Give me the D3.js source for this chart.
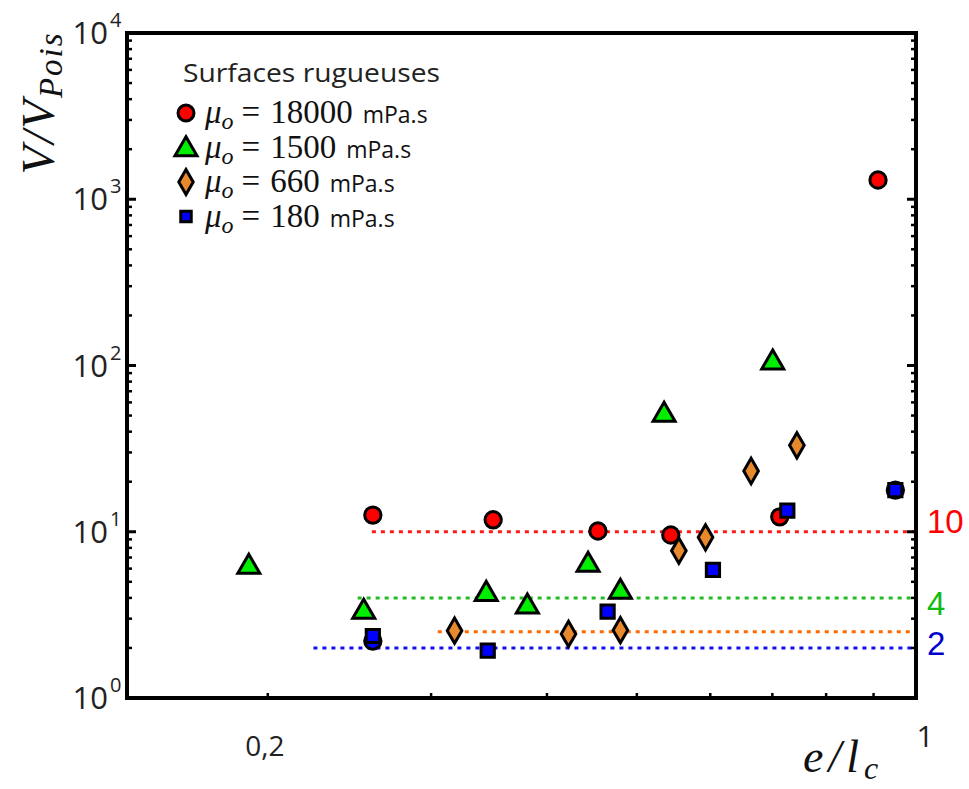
<!DOCTYPE html>
<html><head><meta charset="utf-8">
<script src="https://cdn.jsdelivr.net/npm/d3@7"></script>
<style>body{margin:0;background:#fff}</style>
</head><body>
<svg id="c" width="969" height="789"></svg>
<script>
// ---- data ----
const series18000_x = [0.2596, 0.350, 0.454, 0.544, 0.713, 0.910];
const series18000_y = [12.6, 11.8, 10.1, 9.56, 12.3, 1306];
const series1500_x = [0.1908, 0.2538, 0.344, 0.381, 0.443, 0.480, 0.535, 0.7007];
const series1500_y = [6.14, 3.29, 4.22, 3.54, 6.31, 4.34, 50.4, 104];
const series660_x = [0.318, 0.422, 0.480, 0.555, 0.593, 0.664, 0.744];
const series660_y = [2.54, 2.43, 2.56, 7.69, 9.26, 23.2, 33.1];
const series180_x = [0.2596, 0.3453, 0.465, 0.604, 0.7265, 0.950];
const series180_y = [2.36, 1.93, 3.31, 5.89, 13.39, 17.8];
const extraCircle_x = [0.2596, 0.950];
const extraCircle_y = [2.20, 17.8];
const refValues = [10, 4, 2.5, 2];
const refStarts = [0.259, 0.25, 0.305, 0.224];
const refLabels = ["10", "4", "", "2"];
const refColors = ["#ff1a1a", "#22bb22", "#ff6a00", "#1010ee"];
const refLabelColors = ["#ff0000", "#11bb11", "", "#0000cc"];
const yTickExps = [0, 1, 2, 3, 4];
const xTickValues = [0.2, 0.3, 0.4, 0.5, 0.6, 0.7, 0.8, 0.9, 1];
const xTickLabels = {0.2: "0,2", 1: "1"};
const legendValues = ["18000", "1500", "660", "180"];

const svg = d3.select("#c");
const L = 127, R = 916, T = 33, B = 698;
const x = d3.scaleLog().domain([0.141, 1]).range([L, R]);
const y = d3.scaleLog().domain([1, 10000]).range([B, T]);

// reference dashed lines
const labelOffsets = {10: -10, 4: 6, 2: -4};
refValues.forEach((v, i) => {
  svg.append("line").attr("x1", x(refStarts[i])).attr("x2", R).attr("y1", y(v)).attr("y2", y(v))
    .attr("stroke", refColors[i]).attr("stroke-width", 3).attr("stroke-dasharray", "4,5");
  if (refLabels[i]) {
    svg.append("text").attr("x", 927).attr("y", y(v) + labelOffsets[v])
      .attr("dominant-baseline", "central")
      .attr("font-family", "Liberation Sans, sans-serif").attr("font-size", 33)
      .attr("fill", refLabelColors[i]).text(refLabels[i]);
  }
});

function mk(type, size) { return d3.symbol().type(type).size(size)(); }
function draw(xs, ys, type, size, fill) {
  svg.append("g").selectAll("path").data(xs.map((d, i) => [d, ys[i]])).join("path")
    .attr("d", mk(type, size))
    .attr("transform", d => `translate(${x(d[0])},${y(d[1])})`)
    .attr("fill", fill).attr("stroke", "#000").attr("stroke-width", 3);
}
draw(series18000_x, series18000_y, d3.symbolCircle, 210, "#ff0000");
draw(series1500_x, series1500_y, d3.symbolTriangle, 210, "#00ee00");
draw(series660_x, series660_y, d3.symbolDiamond, 185, "#e8892e");
draw(extraCircle_x, extraCircle_y, d3.symbolCircle, 210, "#0000ff");
draw(series180_x, series180_y, d3.symbolSquare, 175, "#0000ff");

// frame
svg.append("rect").attr("x", L).attr("y", T).attr("width", R - L).attr("height", B - T)
  .attr("fill", "none").attr("stroke", "#000").attr("stroke-width", 4);

// y ticks
const gy = svg.append("g");
yTickExps.forEach(e => {
  const v = Math.pow(10, e);
  [L, R].forEach(xx => {
    const dir = xx === L ? 1 : -1;
    gy.append("line").attr("x1", xx).attr("x2", xx + dir * 9).attr("y1", y(v)).attr("y2", y(v))
      .attr("stroke", "#000").attr("stroke-width", 3);
    if (e < 4) for (let m = 2; m <= 9; m++) {
      gy.append("line").attr("x1", xx).attr("x2", xx + dir * 5).attr("y1", y(m * v)).attr("y2", y(m * v))
        .attr("stroke", "#000").attr("stroke-width", 2.5);
    }
  });
  gy.append("text").attr("x", 108).attr("y", y(v) + 11).attr("text-anchor", "end")
    .attr("font-family", "Open Sans, sans-serif").attr("font-size", 31).attr("fill", "#222").text("10");
  gy.append("text").attr("x", 110).attr("y", y(v) - 6)
    .attr("font-family", "Open Sans, sans-serif").attr("font-size", 20).attr("fill", "#222").text(e);
});

// x ticks
xTickValues.forEach(v => {
  svg.append("line").attr("x1", x(v)).attr("x2", x(v)).attr("y1", B).attr("y2", B - 5)
    .attr("stroke", "#000").attr("stroke-width", 2.5);
  if (xTickLabels[v]) {
    svg.append("text").attr("x", x(v) + (v === 1 ? 9 : -3)).attr("y", v === 1 ? 747 : 756).attr("text-anchor", "middle")
      .attr("font-family", "Open Sans, sans-serif").attr("font-size", v === 1 ? 30 : 28).attr("fill", "#222")
      .text(xTickLabels[v]);
  }
});

// axis titles
const yt = svg.append("text").attr("transform", "translate(54,103) rotate(-90)").attr("text-anchor", "middle")
  .attr("font-family", "Liberation Serif, serif").attr("font-style", "italic").attr("font-size", 47)
  .attr("letter-spacing", 2).attr("fill", "#111");
yt.append("tspan").text("V/V");
yt.append("tspan").attr("font-size", 33).attr("dy", 8).text("Pois");

const xt = svg.append("text").attr("x", 803).attr("y", 772)
  .attr("font-family", "Liberation Serif, serif").attr("font-style", "italic").attr("font-size", 46)
  .attr("letter-spacing", 5).attr("fill", "#111");
xt.append("tspan").text("e/l");
xt.append("tspan").attr("font-size", 32).attr("dy", 7).text("c");

// legend
svg.append("text").attr("x", 183).attr("y", 82).attr("font-family", "Open Sans, sans-serif")
  .attr("font-size", 26).attr("fill", "#222").attr("textLength", 257).attr("lengthAdjust", "spacingAndGlyphs")
  .text("Surfaces rugueuses");
const legTypes = [[d3.symbolCircle, 200, "#ff0000"], [d3.symbolTriangle, 210, "#00ee00"],
  [d3.symbolDiamond, 180, "#e8892e"], [d3.symbolSquare, 110, "#0000ff"]];
legendValues.forEach((val, i) => {
  const cy = 113 + i * 34.5;
  svg.append("path").attr("d", mk(legTypes[i][0], legTypes[i][1]))
    .attr("transform", `translate(186,${cy + (i === 1 ? 2 : 0)})`)
    .attr("fill", legTypes[i][2]).attr("stroke", "#000").attr("stroke-width", 3);
  const t = svg.append("text").attr("x", 205).attr("y", cy + 10).attr("fill", "#111");
  t.append("tspan").attr("font-family", "Liberation Serif, serif").attr("font-style", "italic").attr("font-size", 33).text("μ");
  t.append("tspan").attr("font-family", "Liberation Serif, serif").attr("font-style", "italic").attr("font-size", 24).attr("dy", 6).text("o");
  t.append("tspan").attr("font-family", "Liberation Serif, serif").attr("font-size", 33).attr("dy", -6).attr("dx", 8).text("=");
  t.append("tspan").attr("font-family", "Liberation Serif, serif").attr("font-size", 33).attr("dx", 10).text(val);
  t.append("tspan").attr("font-family", "Open Sans, sans-serif").attr("font-size", 23).attr("dx", 10).text("mPa.s");
});
</script>
</body></html>
